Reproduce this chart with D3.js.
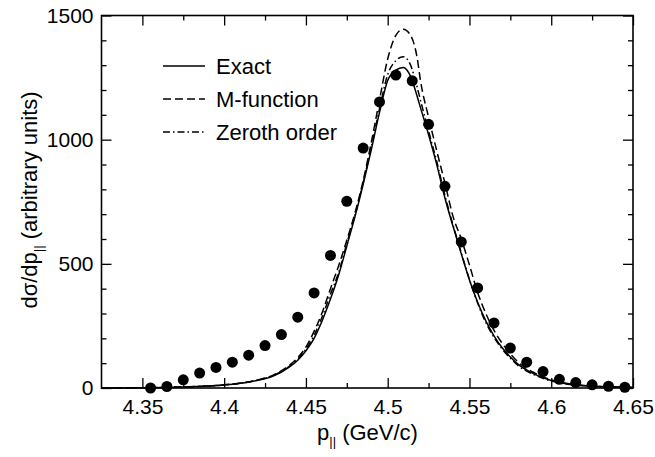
<!DOCTYPE html>
<html>
<head>
<meta charset="utf-8">
<script src="https://cdn.jsdelivr.net/npm/d3@7"></script>
<style>
  body { margin: 0; background: #fff; }
  text { font-family: "Liberation Sans", Arial, Helvetica, sans-serif; fill: #000; }
</style>
</head>
<body>
<div id="chart"></div>
<script>
// momentum grid shared by the three calculations (GeV/c)
const curveP = [4.325, 4.35, 4.375, 4.39, 4.4, 4.41, 4.42, 4.43, 4.44, 4.445, 4.45, 4.455,
                4.46, 4.465, 4.47, 4.475, 4.48, 4.485, 4.49, 4.495, 4.5, 4.505, 4.5095,
                4.514, 4.518, 4.52, 4.525, 4.53, 4.535, 4.54, 4.545, 4.55, 4.555, 4.56,
                4.565, 4.57, 4.575, 4.58, 4.59, 4.6, 4.61, 4.62, 4.63, 4.64, 4.65];

const exact     = [0, 1, 4, 8, 12, 19, 30, 48, 85, 112, 150, 200, 272, 358, 455, 572, 690,
                   820, 960, 1110, 1238, 1280, 1291, 1255, 1175, 1130, 1020, 900, 765, 650,
                   540, 435, 345, 270, 210, 162, 125, 94, 55, 30, 16, 10, 6, 4, 3];

const mFunction = [0, 1, 4, 8, 13, 20, 32, 52, 92, 122, 165, 228, 305, 400, 492, 595, 705,
                   835, 990, 1160, 1325, 1420, 1445, 1420, 1330, 1240, 1090, 955, 825, 690,
                   600, 495, 385, 300, 232, 180, 138, 103, 60, 33, 18, 10, 6, 4, 2];

const zeroth    = [0, 1, 4, 8, 12, 19, 31, 50, 88, 116, 157, 212, 288, 378, 465, 582, 697,
                   827, 972, 1125, 1262, 1318, 1334, 1300, 1212, 1160, 1035, 912, 775, 655,
                   545, 437, 342, 264, 204, 157, 120, 89, 52, 28, 15, 9, 5, 3, 2];

// measured points
const dataP = [4.355, 4.365, 4.375, 4.385, 4.395, 4.405, 4.415, 4.425, 4.435, 4.445,
               4.455, 4.465, 4.475, 4.485, 4.495, 4.505, 4.515, 4.525, 4.535, 4.545,
               4.555, 4.565, 4.575, 4.585, 4.595, 4.605, 4.615, 4.625, 4.635, 4.645];
const dataV = [0, 6, 33, 60, 83, 104, 132, 171, 215, 285,
               383, 534, 752, 966, 1152, 1260, 1237, 1062, 812, 588,
               403, 262, 161, 104, 66, 35, 22, 13, 7, 3];

const xMajor = [4.35, 4.4, 4.45, 4.5, 4.55, 4.6, 4.65];
const xMinor = [4.375, 4.425, 4.475, 4.525, 4.575, 4.625];
const yMajor = [0, 500, 1000, 1500];
const yMinor = [100, 200, 300, 400, 600, 700, 800, 900, 1100, 1200, 1300, 1400];

const legendItems = ["Exact", "M-function", "Zeroth order"];
const dashes = [null, "8,4", "7,3,1.5,3"];

const W = 655, H = 457;
const margin = { top: 15.5, left: 101.5, bottom: 69, right: 22 };
const width  = W - margin.left - margin.right;
const height = H - margin.top - margin.bottom;

const svg = d3.select("#chart")
              .append("svg")
              .attr("width", W)
              .attr("height", H)
              .append("g")
              .attr("transform", `translate(${margin.left}, ${margin.top})`);

const x = d3.scaleLinear().domain([4.325, 4.65]).range([0, width]);
const y = d3.scaleLinear().domain([0, 1500]).range([height, 0]);

function styleAxis(g) {
    g.select(".domain").remove();
    g.selectAll("line").attr("stroke", "#000").attr("stroke-width", 1.3);
    g.selectAll("text").style("font-size", "21px").attr("fill", "#000");
}

// bottom
svg.append("g")
   .attr("transform", `translate(0, ${height})`)
   .call(d3.axisBottom(x).tickValues(xMajor).tickSize(-10).tickPadding(11).tickFormat(d3.format("")))
   .call(styleAxis);
svg.append("g")
   .attr("transform", `translate(0, ${height})`)
   .call(d3.axisBottom(x).tickValues(xMinor).tickSize(-5).tickFormat(""))
   .call(styleAxis);
// top
svg.append("g")
   .call(d3.axisTop(x).tickValues(xMajor).tickSize(-10).tickFormat(""))
   .call(styleAxis);
svg.append("g")
   .call(d3.axisTop(x).tickValues(xMinor).tickSize(-5).tickFormat(""))
   .call(styleAxis);
// left
svg.append("g")
   .call(d3.axisLeft(y).tickValues(yMajor).tickSize(-10).tickPadding(8).tickFormat(d3.format("")))
   .call(styleAxis);
svg.append("g")
   .call(d3.axisLeft(y).tickValues(yMinor).tickSize(-5).tickFormat(""))
   .call(styleAxis);
// right
svg.append("g")
   .attr("transform", `translate(${width}, 0)`)
   .call(d3.axisRight(y).tickValues(yMajor).tickSize(-10).tickFormat(""))
   .call(styleAxis);
svg.append("g")
   .attr("transform", `translate(${width}, 0)`)
   .call(d3.axisRight(y).tickValues(yMinor).tickSize(-5).tickFormat(""))
   .call(styleAxis);

svg.append("rect")
   .attr("width", width)
   .attr("height", height)
   .attr("fill", "none")
   .attr("stroke", "#000")
   .attr("stroke-width", 1.6);

// curves
const line = d3.line()
               .x(d => x(d[0]))
               .y(d => y(d[1]))
               .curve(d3.curveMonotoneX);

[exact, mFunction, zeroth].forEach((vals, i) => {
    svg.append("path")
       .datum(curveP.map((p, j) => [p, vals[j]]))
       .attr("d", line)
       .attr("fill", "none")
       .attr("stroke", "#000")
       .attr("stroke-width", 1.5)
       .attr("stroke-dasharray", dashes[i]);
});

// data points
svg.selectAll("circle")
   .data(dataP.map((p, i) => [p, dataV[i]]))
   .join("circle")
   .attr("cx", d => x(d[0]))
   .attr("cy", d => y(d[1]))
   .attr("r", 5.5)
   .attr("fill", "#000");

// legend
const legend = svg.append("g").attr("transform", "translate(61.5, 50.5)");
legendItems.forEach((name, i) => {
    const row = legend.append("g").attr("transform", `translate(0, ${i * 33})`);
    row.append("line")
       .attr("x1", 0).attr("x2", 42)
       .attr("stroke", "#000")
       .attr("stroke-width", 1.5)
       .attr("stroke-dasharray", dashes[i]);
    row.append("text")
       .attr("x", 53)
       .attr("y", 8)
       .style("font-size", "22px")
       .text(name);
});

// axis titles
const xTitle = svg.append("text")
                  .attr("x", 266)
                  .attr("y", height + 52)
                  .attr("text-anchor", "middle")
                  .style("font-size", "22px");
xTitle.append("tspan").text("p");
xTitle.append("tspan").attr("dy", 6).style("font-size", "13px").text("||");
xTitle.append("tspan").attr("dy", -6).text(" (GeV/c)");

const yTitle = svg.append("text")
                  .attr("transform", `translate(${37 - margin.left}, ${200 - margin.top}) rotate(-90)`)
                  .attr("text-anchor", "middle")
                  .style("font-size", "22px");
yTitle.append("tspan").text("dσ/dp");
yTitle.append("tspan").attr("dy", 6).style("font-size", "13px").text("||");
yTitle.append("tspan").attr("dy", -6).text(" (arbitrary units)");
</script>
</body>
</html>
